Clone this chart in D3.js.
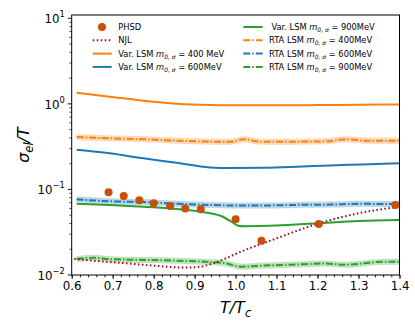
<!DOCTYPE html>
<html>
<head>
<meta charset="utf-8">
<script src="https://cdn.jsdelivr.net/npm/d3@7/dist/d3.min.js"></script>
<style>
  body { margin: 0; background: #fff; }
  svg { font-family: "DejaVu Sans", sans-serif; }
</style>
</head>
<body>
<svg id="chart" width="415" height="332"></svg>
<script>
// PHSD points
const phsdT = [0.69, 0.727, 0.765, 0.80, 0.84, 0.877, 0.915, 1.0, 1.063, 1.203, 1.39];
const phsdV = [0.093, 0.084, 0.075, 0.069, 0.064, 0.060, 0.0586, 0.0448, 0.0252, 0.0394, 0.0658];

// NJL
const njlT = [0.606, 0.653, 0.734, 0.815, 0.872, 0.913, 0.945, 0.982, 1.0, 1.1, 1.2, 1.3, 1.4];
const njlV = [0.0155, 0.0147, 0.0137, 0.0127, 0.0122, 0.0125, 0.0137, 0.0161, 0.0176, 0.0268, 0.0397, 0.0526, 0.0628];

// Var. LSM curves
const var400T = [0.612, 0.693, 0.775, 0.856, 0.937, 0.986, 1.07, 1.2, 1.3, 1.4];
const var400V = [1.348, 1.211, 1.087, 1.003, 0.968, 0.961, 0.961, 0.968, 0.975, 0.985];

const var600T = [0.612, 0.693, 0.775, 0.856, 0.937, 0.986, 1.07, 1.15, 1.23, 1.31, 1.4];
const var600V = [0.291, 0.264, 0.231, 0.205, 0.181, 0.178, 0.179, 0.184, 0.191, 0.196, 0.202];

const var900T = [0.612, 0.693, 0.775, 0.856, 0.914, 0.963, 0.99, 1.006, 1.023, 1.1, 1.2, 1.3, 1.4];
const var900V = [0.0681, 0.0658, 0.0628, 0.059, 0.0549, 0.0493, 0.042, 0.0377, 0.0372, 0.0378, 0.0402, 0.0428, 0.044];

// RTA LSM curves
const rta400T = [0.612, 0.70, 0.78, 0.86, 0.94, 0.99, 1.02, 1.06, 1.15, 1.22, 1.27, 1.32, 1.4];
const rta400V = [0.409, 0.395, 0.385, 0.371, 0.362, 0.362, 0.385, 0.362, 0.362, 0.365, 0.385, 0.37, 0.37];

const rta600T = [0.612, 0.693, 0.775, 0.856, 0.937, 0.99, 1.07, 1.15, 1.23, 1.31, 1.36, 1.4];
const rta600V = [0.0766, 0.0727, 0.0712, 0.0681, 0.0658, 0.065, 0.065, 0.066, 0.0665, 0.068, 0.0675, 0.068];

const rta900T = [0.612, 0.653, 0.693, 0.775, 0.856, 0.937, 0.974, 1.015, 1.055, 1.137, 1.218, 1.267, 1.364, 1.4];
const rta900V = [0.0154, 0.0159, 0.0153, 0.0150, 0.0147, 0.0142, 0.0137, 0.0125, 0.0128, 0.0132, 0.0136, 0.0132, 0.0143, 0.0143];

const xTicks = [0.6, 0.7, 0.8, 0.9, 1.0, 1.1, 1.2, 1.3, 1.4];
const yTicks = [0.01, 0.1, 1, 10];
const yTickExp = ['\u22122', '\u22121', '0', '1'];

const orange = '#ff7f0e', blue = '#1f77b4', green = '#2ca02c';

const svg = d3.select('#chart');
const mLeft = 71.7, mRight = 399.5, mTop = 15, mBottom = 275;

const x = d3.scaleLinear().domain([0.6, 1.4]).range([mLeft, mRight]);
const y = d3.scaleLog().domain([0.01, 10.93]).range([mBottom, mTop]);

const line = d3.line()
    .x(d => x(d[0]))
    .y(d => y(d[1]))
    .curve(d3.curveMonotoneX);

const zip = (a, b) => a.map((t, i) => [t, b[i]]);

const plot = svg.append('g');

// solid curves
[[var400T, var400V, orange], [var600T, var600V, blue], [var900T, var900V, green]].forEach(([t, v, c]) => {
    plot.append('path')
        .attr('d', line(zip(t, v)))
        .attr('fill', 'none')
        .attr('stroke', c)
        .attr('stroke-width', 2);
});

// dash-dot curves with light band
[[rta400T, rta400V, orange], [rta600T, rta600V, blue], [rta900T, rta900V, green]].forEach(([t, v, c]) => {
    const d = line(zip(t, v));
    plot.append('path')
        .attr('d', d)
        .attr('fill', 'none')
        .attr('stroke', c)
        .attr('stroke-opacity', 0.3)
        .attr('stroke-width', 6);
    plot.append('path')
        .attr('d', d)
        .attr('fill', 'none')
        .attr('stroke', c)
        .attr('stroke-width', 2)
        .attr('stroke-dasharray', '7,2,1.5,2');
});

// NJL dotted
plot.append('path')
    .attr('d', line(zip(njlT, njlV)))
    .attr('fill', 'none')
    .attr('stroke', '#9b1020')
    .attr('stroke-width', 2)
    .attr('stroke-dasharray', '1.6,2.4');

// PHSD points
plot.selectAll('circle.phsd')
    .data(zip(phsdT, phsdV))
    .enter()
    .append('circle')
    .attr('class', 'phsd')
    .attr('cx', d => x(d[0]))
    .attr('cy', d => y(d[1]))
    .attr('r', 4)
    .attr('fill', '#c8500a');

// x axis
const xAxis = svg.append('g').attr('transform', `translate(0,${mBottom})`);
xAxis.append('g').call(d3.axisBottom(x).tickValues(d3.range(0.6, 1.4001, 0.02)).tickSize(2.3).tickFormat(''));
xAxis.append('g').call(d3.axisBottom(x).tickValues(xTicks).tickSize(4).tickFormat(d3.format('.1f')));
xAxis.selectAll('.domain').remove();
xAxis.selectAll('line').attr('stroke', '#000').attr('stroke-width', 0.9);
xAxis.selectAll('text')
    .attr('font-size', 11.8)
    .attr('fill', '#000')
    .attr('font-family', '"DejaVu Sans", sans-serif')
    .attr('dy', '0.72em')
    .attr('y', 7);

// y axis
const yAxis = svg.append('g');
const minor = [];
[0.01, 0.1, 1].forEach(b => { for (let k = 2; k <= 9; k++) minor.push(b * k); });
minor.forEach(v => {
    yAxis.append('line')
        .attr('x1', mLeft).attr('x2', mLeft - 2.3)
        .attr('y1', y(v)).attr('y2', y(v))
        .attr('stroke', '#000').attr('stroke-width', 0.7);
});
yTicks.forEach((v, i) => {
    yAxis.append('line')
        .attr('x1', mLeft).attr('x2', mLeft - 4)
        .attr('y1', y(v)).attr('y2', y(v))
        .attr('stroke', '#000').attr('stroke-width', 0.9);
    const t = yAxis.append('text')
        .attr('x', mLeft - 7)
        .attr('y', y(v) + 5)
        .attr('text-anchor', 'end')
        .attr('font-size', 11.8)
        .attr('fill', '#000');
    t.append('tspan').text('10');
    t.append('tspan').attr('font-size', 8.3).attr('dy', -6).text(yTickExp[i]);
});

// frame
svg.append('rect')
    .attr('x', mLeft).attr('y', mTop)
    .attr('width', mRight - mLeft).attr('height', mBottom - mTop)
    .attr('fill', 'none').attr('stroke', '#000').attr('stroke-width', 1);

// axis labels
const xl = svg.append('text')
    .attr('x', (mLeft + mRight) / 2)
    .attr('y', 313)
    .attr('text-anchor', 'middle')
    .attr('font-size', 16)
    .attr('font-style', 'italic');
xl.append('tspan').text('T/T');
xl.append('tspan').attr('font-size', 11.5).attr('dy', 4).text('c');

const yl = svg.append('text')
    .attr('transform', `translate(29,${(mTop + mBottom) / 2}) rotate(-90)`)
    .attr('text-anchor', 'middle')
    .attr('font-size', 16)
    .attr('font-style', 'italic');
yl.append('tspan').text('\u03c3');
yl.append('tspan').attr('font-size', 11.5).attr('dy', 4).text('el');
yl.append('tspan').attr('dy', -4).text('/T');

// legend
const legend = svg.append('g').attr('font-size', 8.3);
const rowY = [27, 40.3, 53.6, 66.9];

function legendLabel(g, xPos, yPos, prefix, mass) {
    const t = g.append('text').attr('x', xPos).attr('y', yPos + 3);
    t.append('tspan').text(prefix + 'LSM ');
    t.append('tspan').attr('font-style', 'italic').text('m');
    t.append('tspan').attr('font-size', 6).attr('dy', 2).attr('font-style', 'italic').text('0, \u03c3');
    t.append('tspan').attr('dy', -2).text(' = ' + mass);
}

// left column
legend.append('circle').attr('cx', 102).attr('cy', rowY[0]).attr('r', 4).attr('fill', '#c8500a');
legend.append('text').attr('x', 118.3).attr('y', rowY[0] + 3).text('PHSD');
legend.append('line').attr('x1', 92.7).attr('x2', 111.7).attr('y1', rowY[1]).attr('y2', rowY[1])
    .attr('stroke', '#9b1020').attr('stroke-width', 2).attr('stroke-dasharray', '1.6,2.4');
legend.append('text').attr('x', 118.3).attr('y', rowY[1] + 3).text('NJL');
legend.append('line').attr('x1', 92.7).attr('x2', 111.7).attr('y1', rowY[2]).attr('y2', rowY[2])
    .attr('stroke', orange).attr('stroke-width', 2);
legendLabel(legend, 118.3, rowY[2], 'Var. ', '400 MeV');
legend.append('line').attr('x1', 92.7).attr('x2', 111.7).attr('y1', rowY[3]).attr('y2', rowY[3])
    .attr('stroke', blue).attr('stroke-width', 2);
legendLabel(legend, 118.3, rowY[3], 'Var. ', '600MeV');

// right column
legend.append('line').attr('x1', 243.3).attr('x2', 262.7).attr('y1', rowY[0]).attr('y2', rowY[0])
    .attr('stroke', green).attr('stroke-width', 2);
legendLabel(legend, 271.5, rowY[0], 'Var. ', '900MeV');
[[orange, '400MeV'], [blue, '600MeV'], [green, '900MeV']].forEach(([c, m], i) => {
    const yy = rowY[i + 1];
    legend.append('line').attr('x1', 243.3).attr('x2', 262.7).attr('y1', yy).attr('y2', yy)
        .attr('stroke', c).attr('stroke-width', 2).attr('stroke-dasharray', '7,2,1.5,2');
    legendLabel(legend, 269, yy, 'RTA ', m);
});
</script>
</body>
</html>
